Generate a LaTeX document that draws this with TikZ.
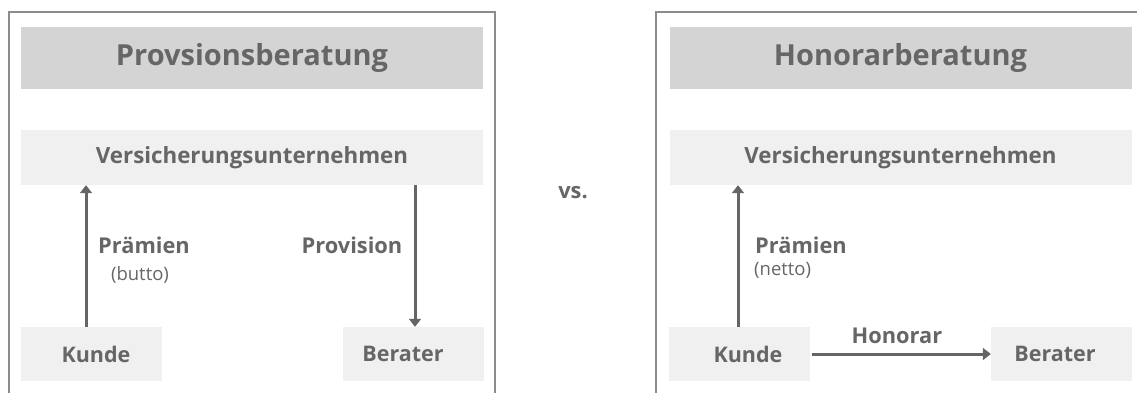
\documentclass[tikz,border=0pt]{standalone}
\usepackage{fontspec}
\setmainfont{Open Sans}
\usetikzlibrary{arrows.meta}
\definecolor{txt}{HTML}{666666}
\definecolor{frm}{HTML}{8C8C8C}
\definecolor{titlebg}{HTML}{D4D4D4}
\definecolor{boxbg}{HTML}{F0F0F0}
\definecolor{arr}{HTML}{656565}
\tikzset{
  frame/.style={draw=frm, line width=1.8pt},
  titlebox/.style={fill=titlebg, minimum width=462pt, minimum height=62pt, inner sep=0pt,
     text=txt, font=\fontsize{29}{31}\selectfont\bfseries},
  vubox/.style={fill=boxbg, minimum width=462pt, minimum height=55pt, inner sep=0pt,
     text=txt, font=\fontsize{22.3}{25}\selectfont\bfseries},
  smallbox/.style={fill=boxbg, minimum width=141pt, minimum height=54pt, inner sep=0pt,
     text=txt, font=\fontsize{21.5}{24}\selectfont\bfseries},
  lab/.style={text=txt, inner sep=0pt, font=\fontsize{21.8}{24}\selectfont\bfseries},
  sublab/.style={text=txt, inner sep=0pt, font=\fontsize{18.5}{20}\selectfont},
  flow/.style={draw=arr, line width=3pt, -{Triangle[width=12pt,length=8pt]}}
}
\begin{document}
\begin{tikzpicture}[x=1pt,y=-1pt]
\useasboundingbox (0,0) rectangle (1137,392);
% frames
\draw[frame] (9,395) -- (9,12) -- (495,12) -- (495,395);
\draw[frame] (656,395) -- (656,12) -- (1140,12);
% left panel
\node[titlebox] (tL) at (252,58) {Provsionsberatung};
\node[vubox] (vuL) at (252,157.5) {Versicherungsunternehmen};
\node[smallbox] (kL) at (91.5,354) {\hspace*{9pt}Kunde};
\node[smallbox] (bL) at (413,354) {Berater\hspace*{20pt}};
\draw[flow] ([xshift=-5.5pt]kL.north) -- ([xshift=-5.5pt]kL.north |- vuL.south);
\draw[flow] ([xshift=2pt]bL.north |- vuL.south) -- ([xshift=2pt]bL.north);
\node[lab, anchor=west] (pL) at (98,245) {Prämien};
\node[sublab] (nL) at (140,275) {(butto)};
\node[lab] (provL) at (352,245) {Provision};
% vs
\node[lab] (vs) at (573,193) {vs.};
% right panel
\node[titlebox] (tR) at (900.5,58) {Honorarberatung};
\node[vubox] (vuR) at (900.5,157.5) {Versicherungsunternehmen};
\node[smallbox] (kR) at (739,354) {\hspace*{18pt}Kunde};
\node[smallbox] (bR) at (1061.5,354) {Berater\hspace*{13pt}};
\draw[flow] ([xshift=-1pt]kR.north) -- ([xshift=-1pt]kR.north |- vuR.south);
\draw[flow] ([xshift=2pt]kR.east) -- (bR.west);
\node[lab, anchor=west] (pR) at (755,245) {Prämien};
\node[sublab, anchor=west] (nR) at (754,270) {(netto)};
\node[lab] (hon) at (897,336) {Honorar};
\end{tikzpicture}
\end{document}
